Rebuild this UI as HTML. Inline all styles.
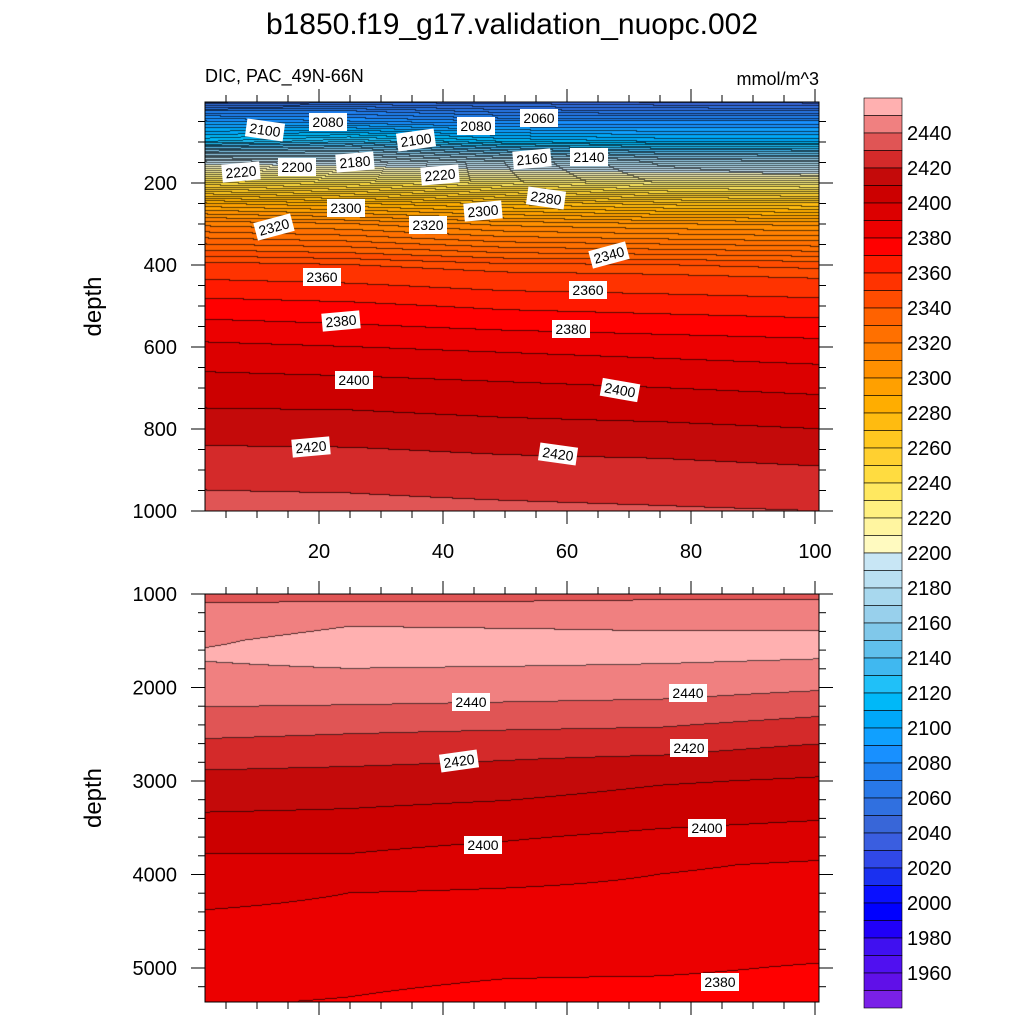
<!DOCTYPE html>
<html><head><meta charset="utf-8"><style>
body{margin:0;background:#fff;width:1024px;height:1024px;overflow:hidden;position:relative;font-family:"Liberation Sans",sans-serif}
canvas{position:absolute}
svg{position:absolute;left:0;top:0}
</style></head><body>
<canvas id="cu" width="614" height="409" style="left:205px;top:102px"></canvas>
<canvas id="cl" width="614" height="408" style="left:205px;top:594px"></canvas>
<svg id="s" width="1024" height="1024"></svg>
<script>
// ---- data ----
const colX = [2, 25, 50, 75, 100];
const upDepths = [0,25,50,100,150,200,250,300,400,500,600,700,800,900,1000];
const upVals = [
 [2040,2070,2090,2120,2195,2245,2290,2318,2352,2374,2392,2405,2415,2427,2433],
 [2045,2070,2085,2130,2190,2240,2285,2315,2350,2372,2390,2404,2415,2426,2433],
 [2045,2062,2080,2115,2180,2232,2278,2308,2346,2368,2388,2402,2413,2424,2432],
 [2042,2060,2080,2110,2172,2226,2272,2305,2345,2366,2386,2400,2412,2423,2431],
 [2040,2060,2080,2110,2170,2225,2270,2303,2343,2364,2384,2398,2410,2421,2430]
];
const loDepths = [1000,1100,1350,1500,1650,1800,2100,2400,2700,3000,3300,3600,3900,4200,4500,5000,5360];
const loVals = [
 [2435,2440,2446,2449,2451,2449,2443,2435,2425,2417,2411,2403,2398,2393,2388,2384,2380.5],
 [2435,2441,2450,2453,2453,2450,2443,2433,2424,2416,2410,2403,2398,2390,2387,2382,2379.7],
 [2435,2441,2449.5,2453,2453,2449.5,2442,2432,2422,2415,2408,2401,2395,2389,2386,2381,2378],
 [2436,2442,2449,2452,2452,2449,2441,2431,2421,2411,2405,2398,2391,2388,2386,2381,2377],
 [2436,2442,2449,2452,2451,2448,2438,2427,2417,2409,2403,2396,2389,2387,2385,2379.5,2377]
];
const levelMin = 1950, levelStep = 10;
const cbLabels = [2440,2420,2400,2380,2360,2340,2320,2300,2280,2260,2240,2220,2200,2180,2160,2140,2120,2100,2080,2060,2040,2020,2000,1980,1960];
const upLabels = [[2100,265,130,8],[2080,328,122,0],[2100,416,140,-8],[2080,476,126,0],[2060,539,118,0],[2220,241,172,-5],[2200,297,167,0],[2180,355,162,-5],[2160,532,159,-5],[2140,589,157,0],[2220,440,175,-5],[2280,546,198,8],[2320,274,227,-15],[2300,346,208,0],[2320,428,225,0],[2300,483,211,-5],[2340,609,255,-15],[2360,322,277,0],[2360,588,290,0],[2380,341,321,-5],[2380,571,329,0],[2400,354,380,0],[2400,620,390,10],[2420,311,447,-5],[2420,558,454,8]];
const loLabels = [[2440,471,702,0],[2440,688,693,0],[2420,459,761,-8],[2420,689,748,0],[2400,483,845,0],[2400,707,828,0],[2380,720,982,0]];
const colors = ["#ffb0b0","#f08080","#e05555","#d42a2a","#c40a0a","#cc0000","#dc0000","#ec0000","#ff0000","#ff1a00","#ff3300","#ff4c00","#ff6200","#ff7000","#ff8000","#ff9000","#ffa000","#ffad00","#ffbb10","#ffc820","#ffd030","#ffdc40","#ffe860","#fff080","#fff5a0","#fffac0","#c8e6f5","#bae0f2","#a8d8ee","#98d0ec","#80c8ea","#60c0ec","#40b8f0","#20c0f8","#00b8f8","#00a8f8","#10a0ff","#1890ff","#2080f0","#2878e8","#3070e0","#3866d8","#3a5ee0","#3048e8","#1a30f0","#0a10ff","#0000ff","#2000f8","#4010f0","#5010f0","#6010e8","#7a20e8"];
// ---- scales ----
const xPix = v => 195 + v*6.2;
const yUp = d => 101 + d*0.41;
const yLo = d => 594 + (d-1000)*0.0935;
function interp1(arr, xs, x){
  if (x<=xs[0]) return arr[0];
  for (let i=1;i<xs.length;i++) if (x<=xs[i]){const t=(x-xs[i-1])/(xs[i]-xs[i-1]);return arr[i-1]+(arr[i]-arr[i-1])*t;}
  return arr[arr.length-1];
}
function field(vals, depths, x, d){
  const col = vals.map(r=>interp1(r,depths,d));
  return interp1(col,colX,x);
}
function hex(c){return [parseInt(c.substr(1,2),16),parseInt(c.substr(3,2),16),parseInt(c.substr(5,2),16)];}
const rgb = colors.map(hex);
function levelIdx(v){let k=Math.floor((v-levelMin)/levelStep);k=Math.max(-1,Math.min(50,k));return 50-k;}
function lineIdx(v,fine){ if(fine && v<2350) return Math.floor(v/5); return 1000+Math.floor(v/10); }
function draw(id, vals, depths, yInv, left, top, fine){
  const c=document.getElementById(id), ctx=c.getContext('2d');
  const W=c.width,H=c.height, img=ctx.createImageData(W,H);
  const idx=new Int16Array(W*H), lidx=new Int16Array(W*H);
  for(let j=0;j<H;j++){const d=yInv(top+j+0.5);
    for(let i=0;i<W;i++){const x=(left+i+0.5-195)/6.2;const v=field(vals,depths,x,d);
      idx[j*W+i]=levelIdx(v);lidx[j*W+i]=lineIdx(v,fine);}}
  for(let j=0;j<H;j++)for(let i=0;i<W;i++){
    const q=j*W+i;const k=idx[q];let col=rgb[k];const l=lidx[q];
    const line=(i<W-1&&lidx[q+1]!==l)||(j<H-1&&lidx[q+W]!==l);
    const p=q*4;const f=line?0.35:1;
    img.data[p]=col[0]*f;img.data[p+1]=col[1]*f;img.data[p+2]=col[2]*f;img.data[p+3]=255;}
  ctx.putImageData(img,0,0);
}
draw('cu',upVals,upDepths,y=>(y-101)/0.41,205,102,true);
draw('cl',loVals,loDepths,y=>(y-594)/0.0935+1000,205,594,false);
// ---- svg ----
const s=document.getElementById('s');const NS='http://www.w3.org/2000/svg';
function el(t,a,txt){const e=document.createElementNS(NS,t);for(const k in a)e.setAttribute(k,a[k]);if(txt!==undefined)e.textContent=txt;s.appendChild(e);return e;}
let e;
e=el('text',{x:512,y:34,'text-anchor':'middle','font-size':30},'b1850.f19_g17.validation_nuopc.002');

e=el('text',{x:205,y:82,'font-size':18},'DIC, PAC_49N-66N');

e=el('text',{x:819,y:85,'text-anchor':'end','font-size':18},'mmol/m^3');

function panel(top,bot,yfun,majors,minors,name,showXLabels){
  e=el('rect',{x:205,y:top,width:614,height:bot-top,fill:'none',stroke:'#000','stroke-width':1});
  
  for(let v=5;v<=100;v+=5){const x=xPix(v);const L=v%20===0?13:7;
    el('line',{x1:x,x2:x,y1:top,y2:top-L,stroke:'#000'});
    el('line',{x1:x,x2:x,y1:bot,y2:bot+L,stroke:'#000'});}
  minors.forEach(d=>{const y=yfun(d);el('line',{x1:205,x2:198,y1:y,y2:y,stroke:'#000'});el('line',{x1:819,x2:826,y1:y,y2:y,stroke:'#000'});});
  majors.forEach(d=>{const y=yfun(d);el('line',{x1:205,x2:191,y1:y,y2:y,stroke:'#000'});el('line',{x1:819,x2:833,y1:y,y2:y,stroke:'#000'});
    e=el('text',{x:177,y:y+7,'text-anchor':'end','font-size':20},String(d));
    });
  if(showXLabels)[20,40,60,80,100].forEach(v=>{e=el('text',{x:xPix(v),y:558,'text-anchor':'middle','font-size':20},String(v));
    });
  e=el('text',{x:0,y:0,'text-anchor':'middle','font-size':24,transform:`translate(101,${(top+bot)/2}) rotate(-90)`},'depth');
  
}
const upMin=[];for(let d=50;d<=1000;d+=50)upMin.push(d);
const loMin=[];for(let d=1000;d<=5300;d+=200)loMin.push(d);
panel(102,511,yUp,[200,400,600,800,1000],upMin,'upper-panel',true);
panel(594,1002,yLo,[1000,2000,3000,4000,5000],loMin,'lower-panel',false);
function labels(arr){arr.forEach(l=>{
  const g=document.createElementNS(NS,'g');g.setAttribute('transform',`translate(${l[1]},${l[2]}) rotate(${l[3]})`);
  
  const r=document.createElementNS(NS,'rect');r.setAttribute('x',-19);r.setAttribute('y',-9);r.setAttribute('width',38);r.setAttribute('height',18);r.setAttribute('fill','#fff');
  const t=document.createElementNS(NS,'text');t.setAttribute('x',0);t.setAttribute('y',5);t.setAttribute('text-anchor','middle');t.setAttribute('font-size',14);t.textContent=l[0];
  g.appendChild(r);g.appendChild(t);s.appendChild(g);});}
labels(upLabels);labels(loLabels);
const cbTop=98,cbH=17.5;
colors.forEach((c,i)=>{e=el('rect',{x:864,y:cbTop+i*cbH,width:38,height:cbH,fill:c,stroke:'#000','stroke-width':0.6});
  });
cbLabels.forEach(v=>{const y=cbTop+cbH+(2450-v)*1.75;
  e=el('text',{x:907,y:y+7,'font-size':20},String(v));
  });
</script>
</body></html>
